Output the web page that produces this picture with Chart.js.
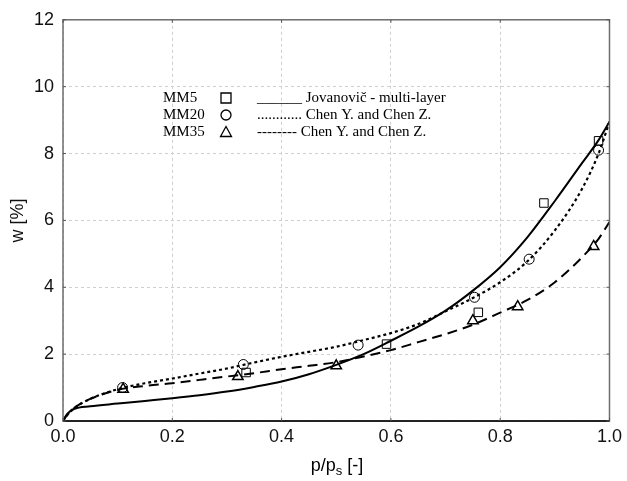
<!DOCTYPE html>
<html>
<head>
<meta charset="utf-8">
<script src="https://cdn.jsdelivr.net/npm/chart.js@4.4.1/dist/chart.umd.min.js"></script>
<style>
  html, body { margin: 0; padding: 0; background: #fff; }
  canvas { display: block; }
</style>
</head>
<body>
<canvas id="chart" width="627" height="481"></canvas>
<script>
// relative pressure grid for the model curves
const curveX = [0, 0.005, 0.01, 0.02, 0.05, 0.1, 0.15, 0.2, 0.25, 0.3, 0.35, 0.4, 0.45, 0.5, 0.55, 0.6, 0.65, 0.7, 0.75, 0.8, 0.85, 0.9, 0.95, 0.98, 1.0];
const jovanovicW = [0, 0.15, 0.25, 0.36, 0.44, 0.52, 0.6, 0.68, 0.77, 0.88, 1.02, 1.18, 1.4, 1.68, 2.0, 2.4, 2.82, 3.3, 3.9, 4.6, 5.5, 6.58, 7.72, 8.4, 8.95];
const chenMM20W = [0, 0.12, 0.22, 0.38, 0.66, 0.95, 1.13, 1.27, 1.42, 1.57, 1.75, 1.92, 2.07, 2.22, 2.42, 2.63, 2.9, 3.28, 3.68, 4.15, 4.78, 5.7, 6.95, 8.0, 8.95];
const chenMM35W = [0, 0.12, 0.22, 0.38, 0.66, 0.93, 1.05, 1.13, 1.23, 1.33, 1.43, 1.55, 1.65, 1.76, 1.93, 2.12, 2.36, 2.6, 2.88, 3.24, 3.62, 4.15, 4.9, 5.45, 5.95];

// measured points
const mm5X = [0.335, 0.592, 0.76, 0.88, 0.98];
const mm5W = [1.45, 2.3, 3.25, 6.52, 8.38];
const mm20X = [0.109, 0.33, 0.54, 0.753, 0.853, 0.98];
const mm20W = [1.0, 1.69, 2.27, 3.7, 4.84, 8.1];
const mm35X = [0.11, 0.32, 0.5, 0.75, 0.832, 0.971];
const mm35W = [0.95, 1.33, 1.65, 3.0, 3.42, 5.22];

// legend rows (sample, marker, line sample, model)
const legendSamples = ['MM5', 'MM20', 'MM35'];
const legendMarkers = ['rect', 'circle', 'triangle'];
const legendLines = ['______', '............', '--------'];
const legendModels = ['Jovanovič - multi-layer', 'Chen Y. and Chen Z.', 'Chen Y. and Chen Z.'];

function toPoints(xs, ys) {
    return xs.map((x, i) => ({ x: x, y: ys[i] }));
}

function drawMarker(ctx, style, cx, cy) {
    ctx.beginPath();
    if (style === 'rect') {
        ctx.rect(cx - 5, cy - 5, 10, 10);
    } else if (style === 'circle') {
        ctx.arc(cx, cy, 5, 0, Math.PI * 2);
    } else {
        ctx.moveTo(cx, cy - 5.5);
        ctx.lineTo(cx + 5.5, cy + 4.5);
        ctx.lineTo(cx - 5.5, cy + 4.5);
        ctx.closePath();
    }
    ctx.stroke();
}

// frame round the plot with small inward ticks
const framePlugin = {
    id: 'frame',
    afterDatasetsDraw(chart) {
        const ctx = chart.ctx;
        const a = chart.chartArea;
        const xs = chart.scales.x, ys = chart.scales.y;
        ctx.save();
        ctx.lineWidth = 1.5;
        ctx.strokeStyle = '#6e6e6e';
        ctx.strokeRect(a.left, a.top, a.right - a.left, a.bottom - a.top);
        ctx.strokeStyle = '#000';
        ctx.beginPath();
        ctx.moveTo(a.left, a.bottom);
        ctx.lineTo(a.right, a.bottom);
        ctx.stroke();
        ctx.strokeStyle = '#555';
        ctx.lineWidth = 1;
        ctx.beginPath();
        xs.ticks.forEach(t => {
            const px = xs.getPixelForValue(t.value);
            ctx.moveTo(px, a.top); ctx.lineTo(px, a.top + 3);
            ctx.moveTo(px, a.bottom); ctx.lineTo(px, a.bottom - 3);
        });
        ys.ticks.forEach(t => {
            const py = ys.getPixelForValue(t.value);
            ctx.moveTo(a.left, py); ctx.lineTo(a.left + 3, py);
            ctx.moveTo(a.right, py); ctx.lineTo(a.right - 3, py);
        });
        ctx.stroke();
        ctx.restore();
    }
};

// legend text inside the plot and x axis title with subscript
const textPlugin = {
    id: 'texts',
    afterDraw(chart) {
        const ctx = chart.ctx;
        ctx.save();
        ctx.fillStyle = '#000';
        ctx.strokeStyle = '#000';
        ctx.lineWidth = 1.3;
        ctx.textBaseline = 'middle';
        ctx.font = '15px "Liberation Serif", "Times New Roman", serif';
        legendSamples.forEach((s, i) => {
            const y = 98 + i * 17;
            ctx.textAlign = 'left';
            ctx.fillText(s, 163, y);
            drawMarker(ctx, legendMarkers[i], 226, y);
            ctx.fillText(legendLines[i] + ' ' + legendModels[i], 257, y);
        });

        // x axis title: p/p_s [-]
        ctx.font = '18px "Liberation Sans", Arial, sans-serif';
        ctx.textBaseline = 'alphabetic';
        const part1 = 'p/p', part3 = ' [-]';
        const w1 = ctx.measureText(part1).width;
        const w3 = ctx.measureText(part3).width;
        ctx.font = '13px "Liberation Sans", Arial, sans-serif';
        const w2 = ctx.measureText('s').width;
        let x = 337 - (w1 + w2 + w3) / 2;
        const base = 471;
        ctx.font = '18px "Liberation Sans", Arial, sans-serif';
        ctx.textAlign = 'left';
        ctx.fillText(part1, x, base);
        x += w1;
        ctx.font = '13px "Liberation Sans", Arial, sans-serif';
        ctx.fillText('s', x, base + 4);
        x += w2;
        ctx.font = '18px "Liberation Sans", Arial, sans-serif';
        ctx.fillText(part3, x, base);
        ctx.restore();
    }
};

const ctx = document.getElementById('chart').getContext('2d');
new Chart(ctx, {
    type: 'scatter',
    data: {
        datasets: [
            {
                label: 'Jovanovič - multi-layer',
                data: toPoints(curveX, jovanovicW),
                showLine: true,
                borderColor: '#000',
                borderWidth: 2,
                pointRadius: 0,
                cubicInterpolationMode: 'monotone'
            },
            {
                label: 'Chen Y. and Chen Z. (MM20)',
                data: toPoints(curveX, chenMM20W),
                showLine: true,
                borderColor: '#000',
                borderWidth: 2.2,
                borderDash: [3, 3],
                pointRadius: 0,
                cubicInterpolationMode: 'monotone'
            },
            {
                label: 'Chen Y. and Chen Z. (MM35)',
                data: toPoints(curveX, chenMM35W),
                showLine: true,
                borderColor: '#000',
                borderWidth: 2,
                borderDash: [10, 6],
                pointRadius: 0,
                cubicInterpolationMode: 'monotone'
            },
            {
                label: 'MM5',
                data: toPoints(mm5X, mm5W),
                pointStyle: 'rect',
                pointRadius: 6,
                borderColor: '#000',
                borderWidth: 1,
                backgroundColor: 'rgba(255,255,255,0)'
            },
            {
                label: 'MM20',
                data: toPoints(mm20X, mm20W),
                pointStyle: 'circle',
                pointRadius: 5,
                borderColor: '#000',
                borderWidth: 1,
                backgroundColor: 'rgba(255,255,255,0)'
            },
            {
                label: 'MM35',
                data: toPoints(mm35X, mm35W),
                pointStyle: 'triangle',
                pointRadius: 6,
                borderColor: '#000',
                borderWidth: 1.5,
                backgroundColor: 'rgba(255,255,255,0)'
            }
        ]
    },
    options: {
        responsive: false,
        animation: false,
        layout: { padding: { top: 16, right: 15, left: 0, bottom: 0 } },
        plugins: {
            legend: { display: false },
            tooltip: { enabled: false }
        },
        scales: {
            x: {
                type: 'linear',
                min: 0,
                max: 1,
                afterFit: scale => { scale.height = 60; },
                grid: { color: '#cfcfcf', lineWidth: 1, drawTicks: false },
                border: { display: false, dash: [3, 3] },
                ticks: {
                    stepSize: 0.2,
                    padding: 5,
                    color: '#111',
                    font: { family: '"Liberation Sans", Arial, sans-serif', size: 18 },
                    callback: v => v.toFixed(1)
                }
            },
            y: {
                type: 'linear',
                min: 0,
                max: 12,
                afterFit: scale => { scale.width = 63; },
                grid: { color: '#cfcfcf', lineWidth: 1, drawTicks: false },
                border: { display: false, dash: [3, 3] },
                ticks: {
                    stepSize: 2,
                    padding: 9,
                    color: '#111',
                    font: { family: '"Liberation Sans", Arial, sans-serif', size: 18 }
                },
                title: {
                    display: true,
                    text: 'w [%]',
                    color: '#111',
                    padding: { top: 7, bottom: 0 },
                    font: { family: '"Liberation Sans", Arial, sans-serif', size: 18 }
                }
            }
        }
    },
    plugins: [framePlugin, textPlugin]
});
</script>
</body>
</html>
